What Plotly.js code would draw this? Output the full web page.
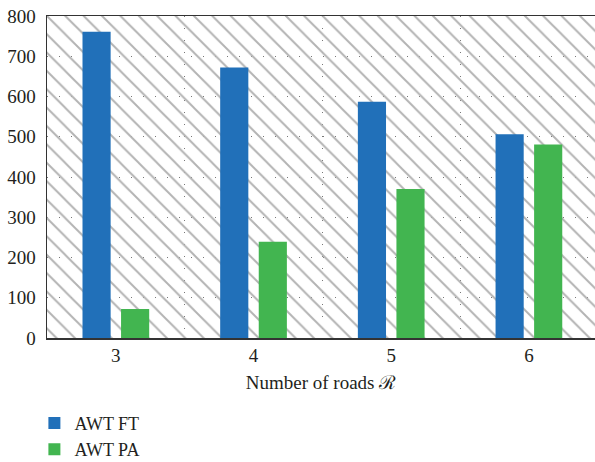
<!DOCTYPE html>
<html>
<head>
<meta charset="utf-8">
<script src="https://cdn.plot.ly/plotly-3.0.1.min.js"></script>
<style>html,body{margin:0;padding:0;background:#fff;}#chart{width:595px;height:462px;}</style>
</head>
<body>
<div id="chart"></div>
<script>
const roads = ['3', '4', '5', '6'];
const awtFT = [761, 672, 587, 506];
const awtPA = [72, 239, 370, 481];
const seriesNames = ['AWT FT', 'AWT PA'];
const yTicks = [0, 100, 200, 300, 400, 500, 600, 700, 800];

const FONT = 'Liberation Serif, DejaVu Serif, serif';
const TXT = '#231f20';

const data = [
  {
    type: 'bar', x: [0.5], y: [1], width: [1], xaxis: 'x', yaxis: 'y',
    showlegend: false, hoverinfo: 'skip',
    marker: {color: 'rgba(0,0,0,0)', line: {width: 0},
      pattern: {shape: '\\', fillmode: 'replace', fgcolor: '#b3b3b3', bgcolor: 'rgba(0,0,0,0)', size: 13, solidity: 0.15}}
  },
  {type: 'bar', name: seriesNames[0], x: roads, y: awtFT, xaxis: 'x2', yaxis: 'y2', marker: {color: '#2170b9', line: {width: 0}}},
  {type: 'bar', name: seriesNames[1], x: roads, y: awtPA, xaxis: 'x2', yaxis: 'y2', marker: {color: '#42b550', line: {width: 0}}}
];

const layout = {
  width: 595, height: 462,
  margin: {l: 47, r: 0, t: 16, b: 124},
  paper_bgcolor: '#fff', plot_bgcolor: '#fff',
  font: {family: FONT, size: 19, color: TXT},
  barmode: 'group', bargap: 0.44, bargroupgap: 0.27,
  xaxis: {range: [0, 1], visible: false, fixedrange: true},
  yaxis: {range: [0, 1], visible: false, fixedrange: true},
  xaxis2: {
    overlaying: 'x', anchor: 'y2', type: 'category', range: [-0.5, 3.48], automargin: false,
    tickson: 'boundaries', ticks: '', showgrid: true, gridcolor: '#777', gridwidth: 1, griddash: '1px,11px',
    showline: true, linecolor: '#333', linewidth: 1.5, mirror: true, zeroline: false,
    tickfont: {family: FONT, size: 19, color: TXT},
    title: {text: 'Number of roads ℛ', font: {family: FONT, size: 19, color: TXT}, standoff: 10}
  },
  yaxis2: {
    overlaying: 'y', anchor: 'x2', side: 'left', range: [0, 800], tickvals: yTicks, automargin: false,
    ticks: '', showgrid: true, gridcolor: '#777', gridwidth: 1, griddash: '1px,11px',
    showline: true, linecolor: '#333', linewidth: 1.5, zeroline: false,
    tickfont: {family: FONT, size: 19, color: TXT}, ticklabelstandoff: 6
  },
  showlegend: true,
  legend: {x: -0.023, xanchor: 'left', xref: 'paper', y: 0.124, yanchor: 'top', yref: 'container', orientation: 'v',
    font: {family: FONT, size: 18, color: TXT}, bgcolor: 'rgba(0,0,0,0)', tracegroupgap: 0}
};

Plotly.newPlot('chart', data, layout, {displayModeBar: false, staticPlot: true});
</script>
</body>
</html>
